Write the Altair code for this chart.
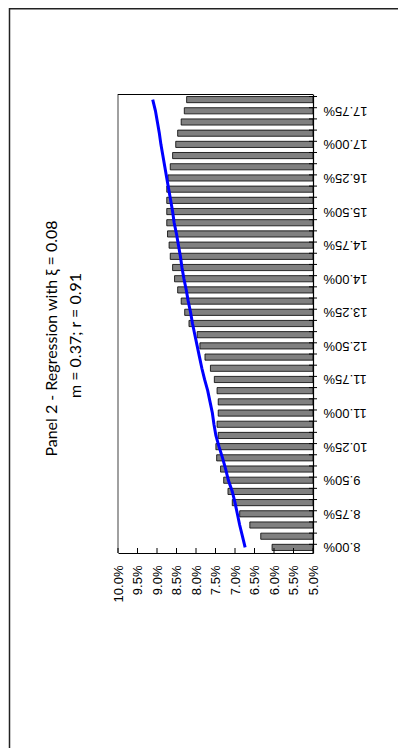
import altair as alt
import pandas as pd

# Category axis (rates), bottom to top
categories = ["8.00%", "8.25%", "8.50%", "8.75%", "9.00%", "9.25%", "9.50%", "9.75%",
              "10.00%", "10.25%", "10.50%", "10.75%", "11.00%", "11.25%", "11.50%", "11.75%",
              "12.00%", "12.25%", "12.50%", "12.75%", "13.00%", "13.25%", "13.50%", "13.75%",
              "14.00%", "14.25%", "14.50%", "14.75%", "15.00%", "15.25%", "15.50%", "15.75%",
              "16.00%", "16.25%", "16.50%", "16.75%", "17.00%", "17.25%", "17.50%", "17.75%",
              "18.00%"]

# Bar values (percent)
bar_values = [6.05, 6.34, 6.62, 6.88, 7.07, 7.18, 7.29, 7.37,
              7.47, 7.49, 7.43, 7.46, 7.43, 7.43, 7.46, 7.53,
              7.63, 7.77, 7.90, 7.97, 8.18, 8.29, 8.38, 8.47,
              8.55, 8.60, 8.66, 8.69, 8.73, 8.75, 8.75, 8.75,
              8.75, 8.72, 8.66, 8.60, 8.52, 8.47, 8.38, 8.30,
              8.24]

# Regression line values (percent)
line_values = [6.74, 6.81, 6.88, 6.94, 7.00, 7.07, 7.17, 7.24,
               7.32, 7.41, 7.49, 7.54, 7.58, 7.64, 7.70, 7.78,
               7.85, 7.91, 7.97, 8.03, 8.09, 8.14, 8.20, 8.25,
               8.31, 8.36, 8.40, 8.45, 8.50, 8.56, 8.60, 8.65,
               8.70, 8.75, 8.80, 8.85, 8.90, 8.94, 8.99, 9.04,
               9.11]

# Labeled categories and value-axis ticks
label_categories = ["8.00%", "8.75%", "9.50%", "10.25%", "11.00%", "11.75%", "12.50%",
                    "13.25%", "14.00%", "14.75%", "15.50%", "16.25%", "17.00%", "17.75%"]
x_ticks = [5.0, 5.5, 6.0, 6.5, 7.0, 7.5, 8.0, 8.5, 9.0, 9.5, 10.0]

title_text = "Panel 2 - Regression with ξ = 0.08"
subtitle_text = "m = 0.37; r = 0.91"

W, H = 195, 459

df = pd.DataFrame({"cat": categories, "bar": bar_values, "fit": line_values,
                   "idx": list(range(len(categories)))})
ticks_df = pd.DataFrame({"t": x_ticks})
one = pd.DataFrame({"a": [0]})
title_df = pd.DataFrame({"t": [title_text]})
subtitle_df = pd.DataFrame({"t": [subtitle_text]})

order = categories[::-1]
xscale = alt.Scale(domain=[5, 10], reverse=True, nice=False, zero=False)
yscale = alt.Scale(domain=order, paddingInner=0.45, paddingOuter=0.225)

FONT = "Liberation Sans"

bars = alt.Chart(df).mark_bar(color="#808080", stroke="#000000", strokeWidth=0.8).encode(
    y=alt.Y("cat:N", scale=yscale, axis=alt.Axis(
        orient="right", title=None, values=label_categories, labelAngle=180,
        labelAlign="right", labelBaseline="middle", labelPadding=10, ticks=False,
        domainColor="#000000", domainWidth=1.2, labelFont=FONT,
        labelFontSize=13, labelColor="#000000", zindex=2, labelOverlap=False)),
    x=alt.X("bar:Q", scale=xscale, axis=alt.Axis(
        orient="bottom", title=None, values=x_ticks,
        labelExpr="format(datum.value, '.1f') + '%'", labelAngle=-90,
        labelAlign="right", labelBaseline="middle", labelPadding=12, ticks=False,
        grid=False, domainColor="#000000", domainWidth=1.2,
        labelFont=FONT, labelFontSize=13, labelColor="#000000", zindex=2,
        labelOverlap=False)),
    x2=alt.datum(5),
)

fit = alt.Chart(df).mark_line(color="#0000FF", strokeWidth=3).encode(
    y=alt.Y("cat:N", scale=yscale, axis=None),
    x=alt.X("fit:Q", scale=xscale, axis=None),
    order=alt.Order("idx:Q"),
)

cat_ticks = alt.Chart(df).mark_rule(color="#000000", strokeWidth=1).encode(
    y=alt.Y("cat:N", scale=yscale, axis=None, bandPosition=0),
    x=alt.value(W - 4), x2=alt.value(W + 4),
)

val_ticks = alt.Chart(ticks_df).mark_rule(color="#000000", strokeWidth=1).encode(
    x=alt.X("t:Q", scale=xscale, axis=None),
    y=alt.value(H - 5), y2=alt.value(H),
)

top_line = alt.Chart(one).mark_rule(color="#000000", strokeWidth=1).encode(
    x=alt.value(0), x2=alt.value(W), y=alt.value(0.5))
left_line = alt.Chart(one).mark_rule(color="#808080", strokeWidth=1.5).encode(
    x=alt.value(0), y=alt.value(0), y2=alt.value(H))

outer_top = alt.Chart(one).mark_rule(color="#222222", strokeWidth=1.5).encode(
    x=alt.value(-108.5), x2=alt.value(W + 300), y=alt.value(-85.2))
outer_left = alt.Chart(one).mark_rule(color="#222222", strokeWidth=1.5).encode(
    x=alt.value(-108.5), y=alt.value(-86), y2=alt.value(H + 400))

title_mark = alt.Chart(title_df).mark_text(
    angle=270, font="Lato", fontSize=16, align="center", baseline="middle", color="#000000"
).encode(text="t:N", x=alt.value(-66), y=alt.value(H / 2 + 15))

subtitle_mark = alt.Chart(subtitle_df).mark_text(
    angle=270, font="Lato", fontSize=16, align="center", baseline="middle", color="#000000"
).encode(text="t:N", x=alt.value(-42), y=alt.value(H / 2 + 12))

chart = alt.layer(
    bars, left_line, top_line, fit, cat_ticks, val_ticks, outer_top, outer_left,
    title_mark, subtitle_mark
).resolve_axis(x="independent", y="independent").properties(
    width=W, height=H,
    autosize=alt.AutoSizeParams(type="none"),
    padding={"left": 110, "top": 86, "right": 390 - 110 - W, "bottom": 740 - 86 - H},
).configure_view(stroke=None)

chart.save("out.html", embed_options={"renderer": "svg", "actions": False})
